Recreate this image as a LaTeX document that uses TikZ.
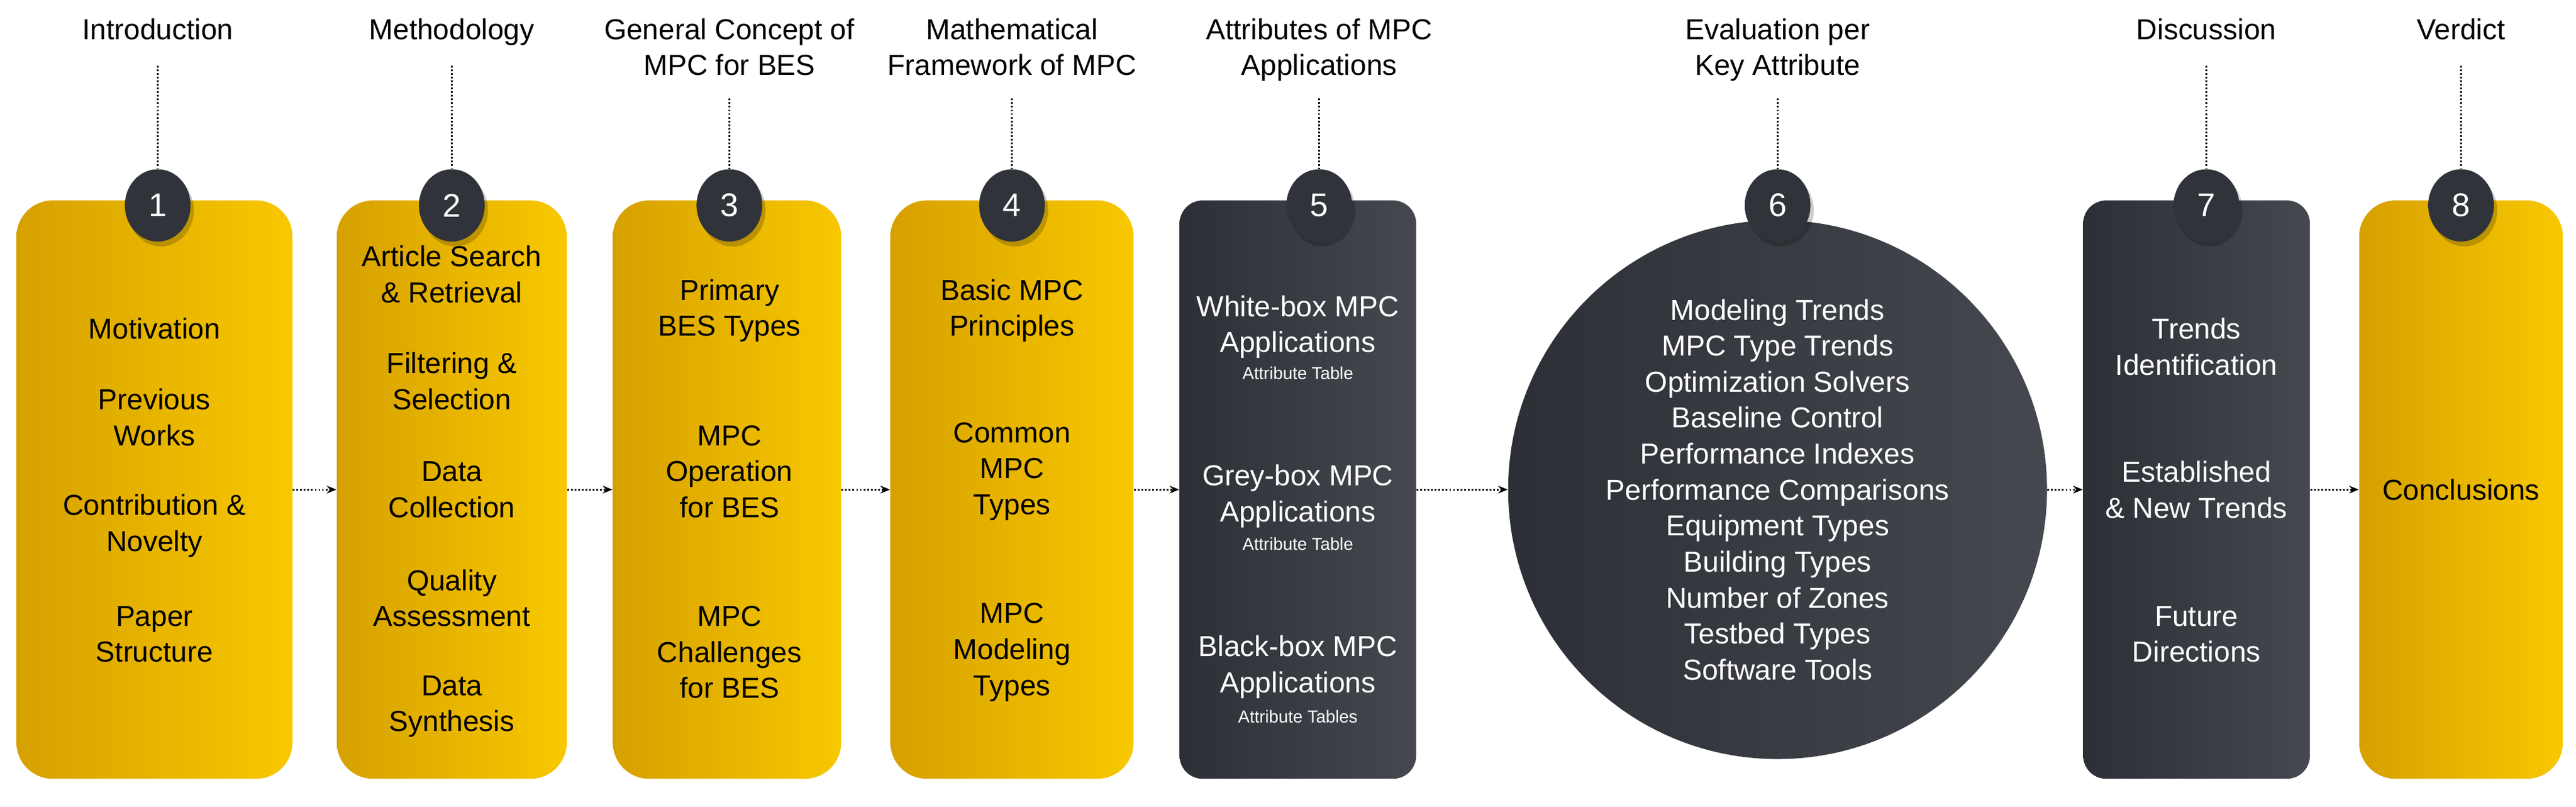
\documentclass[tikz,border=0pt]{standalone}
\usepackage{fontspec}
\setmainfont{Liberation Sans}
\usetikzlibrary{arrows.meta,shapes.geometric}
\begin{document}
\begin{tikzpicture}[x=0.03cm,y=-0.03cm,
 ybox/.style={rounded corners=22*0.03cm,left color=ylL,right color=ylR,draw=none},
 dbox/.style={rounded corners=14*0.03cm,left color=dkL,right color=dkR,draw=none},
 txt/.style={align=center,font=\fontsize{15}{18.7}\selectfont,inner sep=0pt},
 wtxt/.style={txt,text=white},
 small/.style={font=\fontsize{9}{10}\selectfont,inner sep=0pt},
 top/.style={txt,font=\fontsize{15}{18.7}\selectfont,anchor=north},
 dot/.style={densely dotted,line width=0.9pt},
 arr/.style={dot,-{Stealth[length=5pt,width=4pt]}}]
\definecolor{ylL}{HTML}{D6A000}
\definecolor{ylR}{HTML}{F8C800}
\definecolor{dkL}{HTML}{2C2F35}
\definecolor{dkR}{HTML}{45484F}
\definecolor{bd}{HTML}{30333A}
\useasboundingbox (0,0) rectangle (1568,491);
% boxes
\path[ybox] (10,122) rectangle (178,474);
\node[inner sep=0,minimum width=168*0.03cm,minimum height=352*0.03cm] (B1) at (94,298) {};
\path[ybox] (205,122) rectangle (345,474);
\node[inner sep=0,minimum width=140*0.03cm,minimum height=352*0.03cm] (B2) at (275,298) {};
\path[ybox] (373,122) rectangle (512,474);
\node[inner sep=0,minimum width=139*0.03cm,minimum height=352*0.03cm] (B3) at (442.5,298) {};
\path[ybox] (542,122) rectangle (690,474);
\node[inner sep=0,minimum width=148*0.03cm,minimum height=352*0.03cm] (B4) at (616,298) {};
\path[dbox] (718,122) rectangle (862,474);
\node[inner sep=0,minimum width=144*0.03cm,minimum height=352*0.03cm] (B5) at (790,298) {};
\shade[left color=dkL,right color=dkR] (1082,298) circle (164*0.03cm);
\node[circle,inner sep=0,minimum size=328*0.03cm] (B6) at (1082,298) {};
\path[dbox] (1268,122) rectangle (1406,474);
\node[inner sep=0,minimum width=138*0.03cm,minimum height=352*0.03cm] (B7) at (1337,298) {};
\path[ybox] (1436,122) rectangle (1560,474);
\node[inner sep=0,minimum width=124*0.03cm,minimum height=352*0.03cm] (B8) at (1498,298) {};
% arrows
\draw[arr] (B1.east) -- (B2.west);
\draw[arr] (B2.east) -- (B3.west);
\draw[arr] (B3.east) -- (B4.west);
\draw[arr] (B4.east) -- (B5.west);
\draw[arr] (B5.east) -- (B6.west);
\draw[arr] (B6.east) -- (B7.west);
\draw[arr] (B7.east) -- (B8.west);
% badges and top labels
\foreach \i/\x/\lab/\ly in {1/96/Introduction/40,2/275/Methodology/40,3/444/{General Concept of\\MPC for BES}/60,4/616/{Mathematical\\Framework of MPC}/60,5/803/{Attributes of MPC\\Applications}/60,6/1082/{Evaluation per\\Key Attribute}/60,7/1343/Discussion/40,8/1498/Verdict/40}{
  \node[top] (T\i) at (\x,11) {\lab};
  \fill[black,opacity=0.2] (\x+2,128) ellipse (20*0.03cm and 22*0.03cm);
  \node[ellipse,fill=bd,minimum width=40*0.03cm,minimum height=44*0.03cm,inner sep=0,text=white,font=\fontsize{17}{18}\selectfont] (N\i) at (\x,125) {\i};
  \draw[dot] (\x,\ly) -- (N\i.north);
}
% box texts
\node[txt] at (94,200) {Motivation};
\node[txt] at (94,254) {Previous\\Works};
\node[txt] at (94,320) {Contribution \&\\Novelty};
\node[txt] at (94,386) {Paper\\Structure};
\node[txt] at (275,167) {Article Search\\\& Retrieval};
\node[txt] at (275,232) {Filtering \&\\Selection};
\node[txt] at (275,298) {Data\\Collection};
\node[txt] at (275,364) {Quality\\Assessment};
\node[txt] at (275,430) {Data\\Synthesis};
\node[txt] at (444,189) {Primary\\BES Types};
\node[txt] at (444,287) {MPC\\Operation\\for BES};
\node[txt] at (444,397) {MPC\\Challenges\\for BES};
\node[txt] at (616,189) {Basic MPC\\Principles};
\node[txt] at (616,287) {Common\\MPC\\Types};
\node[txt] at (616,397) {MPC\\Modeling\\Types};
\node[wtxt] at (790,199) {White-box MPC\\Applications};
\node[small,text=white] at (790,227) {Attribute Table};
\node[wtxt] at (790,302) {Grey-box MPC\\Applications};
\node[small,text=white] at (790,331) {Attribute Table};
\node[wtxt] at (790,406) {Black-box MPC\\Applications};
\node[small,text=white] at (790,436) {Attribute Tables};
\node[wtxt] at (1082,298) {Modeling Trends\\MPC Type Trends\\Optimization Solvers\\Baseline Control\\Performance Indexes\\Performance Comparisons\\Equipment Types\\Building Types\\Number of Zones\\Testbed Types\\Software Tools};
\node[wtxt] at (1337,211) {Trends\\Identification};
\node[wtxt] at (1337,298) {Established\\\& New Trends};
\node[wtxt] at (1337,386) {Future\\Directions};
\node[txt] at (1498,298) {Conclusions};
\end{tikzpicture}
\end{document}
